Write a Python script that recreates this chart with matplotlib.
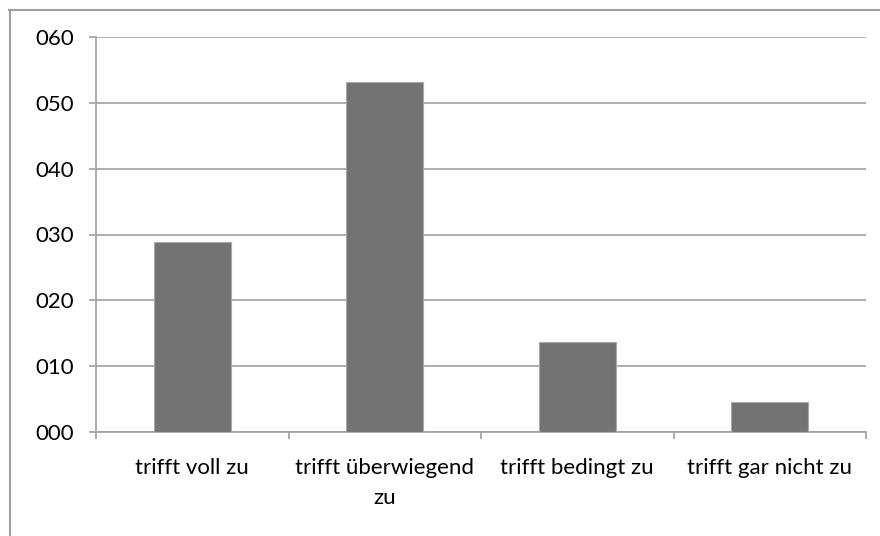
import matplotlib
matplotlib.use("Agg")
import matplotlib.pyplot as plt
from matplotlib.ticker import FuncFormatter
from matplotlib.lines import Line2D

# Werte
categories = ["trifft voll zu", "trifft überwiegend\nzu", "trifft bedingt zu", "trifft gar nicht zu"]
values = [28.8, 53.1, 13.6, 4.5]
y_ticks = [0, 10, 20, 30, 40, 50, 60]

plt.rcParams['font.family'] = ['Lato', 'DejaVu Sans']

fig = plt.figure(figsize=(8.8, 5.36), dpi=100)
ax = fig.add_axes([96/880, 1 - 432/536, 770/880, 395/536])

grey = '#a0a0a0'
x = range(len(categories))
ax.bar(x, values, width=0.4, color='#737373', edgecolor='#a8a8a8', linewidth=0.8, zorder=3)

ax.set_xlim(-0.5, len(categories) - 0.5)
ax.set_ylim(0, 60)
ax.set_yticks(y_ticks)
ax.yaxis.set_major_formatter(FuncFormatter(lambda v, p: "%03d" % v))
ax.grid(axis='y', color=grey, linewidth=1.2, zorder=0)

# Kategorie-Trennstriche unter der Achse
ax.set_xticks([i - 0.5 for i in range(len(categories) + 1)])
ax.set_xticklabels([])
ax.set_xticks(list(x), minor=True)
ax.set_xticklabels(categories, minor=True, fontsize=16, linespacing=1.6, va='top')
ax.tick_params(axis='x', which='minor', length=0, pad=19)
ax.tick_params(axis='x', which='major', length=5, color=grey, width=1.2)
ax.tick_params(axis='y', length=5, color=grey, width=1.2, labelsize=16, pad=11)

for s in ['top', 'right']:
    ax.spines[s].set_visible(False)
for s in ['left', 'bottom']:
    ax.spines[s].set_color(grey)
    ax.spines[s].set_linewidth(1.2)

# Rahmen um das Diagramm
fig.add_artist(Line2D([9/880, 1.0], [1 - 10/536, 1 - 10/536], color=grey, linewidth=1.5))
fig.add_artist(Line2D([9.5/880, 9.5/880], [0.0, 1 - 10/536], color=grey, linewidth=1.5))

fig.savefig("out.png", dpi=100)
